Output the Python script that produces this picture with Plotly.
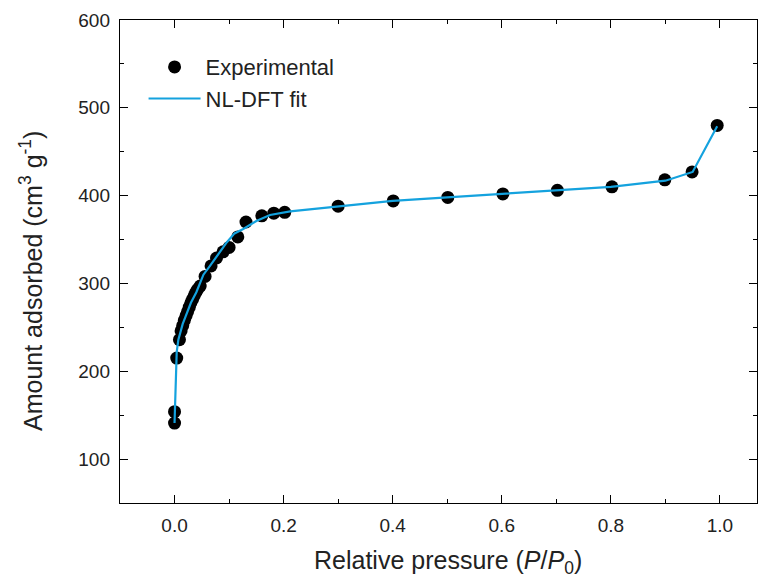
import plotly.graph_objects as go

# Experimental points
exp_x = [0.0, 0.0, 0.004, 0.009, 0.012, 0.015, 0.018, 0.021, 0.024, 0.027, 0.030, 0.033,
         0.036, 0.039, 0.042, 0.047, 0.056, 0.067, 0.077, 0.089, 0.100, 0.116, 0.131,
         0.160, 0.182, 0.202, 0.300, 0.401, 0.501, 0.602, 0.702, 0.802, 0.899, 0.949, 0.995]
exp_y = [141, 154, 215, 236, 246, 252, 258, 263, 268, 273, 278, 282,
         286, 290, 293, 297, 308, 320, 329, 336, 341, 353, 370,
         377, 380, 381, 388, 394, 398, 402, 406, 410, 418, 427, 480]

# NL-DFT fit curve
fit_x = [0.0, 0.002, 0.004, 0.007, 0.010, 0.015, 0.020, 0.030, 0.040, 0.053, 0.065,
         0.080, 0.096, 0.110, 0.126, 0.150, 0.175, 0.212, 0.300, 0.400, 0.500, 0.600,
         0.700, 0.800, 0.900, 0.950, 0.995]
fit_y = [141, 185, 222, 236, 244, 254, 262, 278, 290, 310, 320,
         333, 347, 357, 362, 371, 378, 382, 388, 394, 398, 402,
         406, 410, 417, 427, 479]

x_title = "Relative pressure (<i>P</i>/<i>P</i><sub>0</sub>)"
y_title = "Amount adsorbed (cm<sup>3</sup> g<sup>-1</sup>)"

FONT = "Liberation Sans, Arial"

fig = go.Figure()
fig.add_trace(go.Scatter(x=exp_x, y=exp_y, mode="markers", name="Experimental",
                         marker=dict(color="black", size=13)))
fig.add_trace(go.Scatter(x=fit_x, y=fit_y, mode="lines", name="NL-DFT fit",
                         line=dict(color="#14A2DE", width=2.2)))

axis_common = dict(
    showline=True, linecolor="black", linewidth=1.4, mirror="allticks",
    ticks="inside", ticklen=8, tickwidth=1.4, tickcolor="black",
    showgrid=False, zeroline=False, automargin=False,
    tickfont=dict(family=FONT, size=19, color="#222"),
)
fig.update_xaxes(range=[-0.1, 1.068], dtick=0.2, tick0=0, tickformat=".1f",
                 ticklabelstandoff=5,
                 minor=dict(ticks="inside", ticklen=4, dtick=0.1, tickcolor="black"),
                 **axis_common)
fig.update_yaxes(range=[50, 600], dtick=100, tick0=0,
                 ticklabelstandoff=5,
                 minor=dict(ticks="inside", ticklen=4, dtick=50, tickcolor="black"),
                 **axis_common)

# Axis titles as annotations (positioned like the reference)
fig.add_annotation(text=x_title, xref="paper", yref="paper",
                   x=(448 - 120) / 637, y=-(562 - 503) / 483,
                   xanchor="center", yanchor="middle", showarrow=False,
                   font=dict(family=FONT, size=25, color="#222"))
fig.add_annotation(text=y_title, xref="paper", yref="paper", textangle=-90,
                   x=(31 - 120) / 637, y=(503 - 281) / 483,
                   xanchor="center", yanchor="middle", showarrow=False,
                   font=dict(family=FONT, size=25, color="#222"))

fig.update_layout(
    width=764, height=577,
    margin=dict(l=120, r=7, t=20, b=74),
    paper_bgcolor="white", plot_bgcolor="white",
    font=dict(family=FONT, color="#222"),
    legend=dict(x=0.037, y=0.946, xanchor="left", yanchor="top",
                font=dict(size=22, color="#222"), bgcolor="rgba(0,0,0,0)",
                itemwidth=52, tracegroupgap=0),
    showlegend=True,
)
fig.write_html("out.html")
